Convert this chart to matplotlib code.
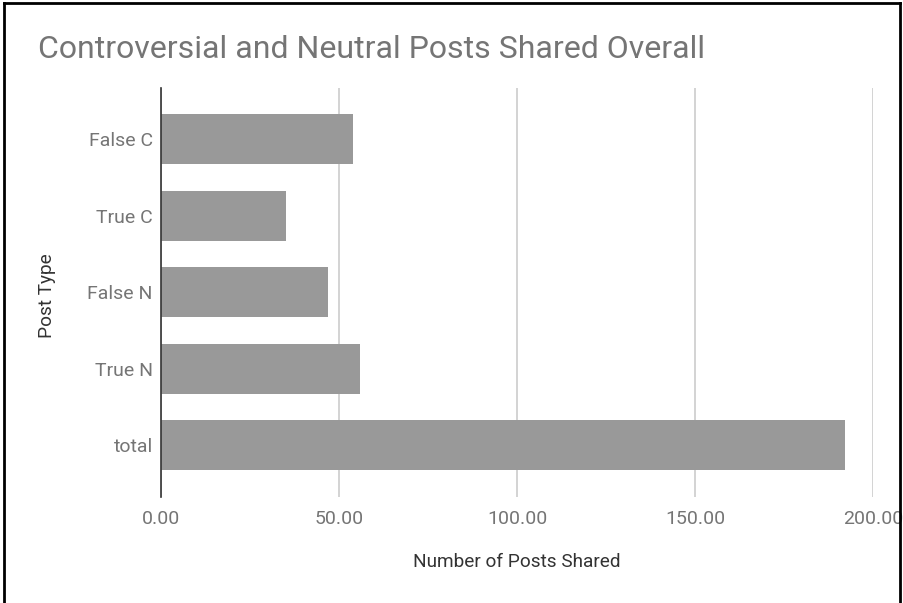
import matplotlib
matplotlib.use("Agg")
import matplotlib.pyplot as plt
from matplotlib.lines import Line2D

categories = ["False C", "True C", "False N", "True N", "total"]
values = [54, 35, 47, 56, 192]
xticks = [0, 50, 100, 150, 200]
xtick_labels = ["0.00", "50.00", "100.00", "150.00", "200.00"]

plt.rcParams['font.family'] = ['Roboto', 'DejaVu Sans']

W, H = 904, 603
fig = plt.figure(figsize=(W / 100, H / 100), dpi=100)
ax = fig.add_axes([161 / W, 1 - 497 / H, (873 - 161) / W, (497 - 88) / H])

ypos = list(range(len(categories)))
ax.barh(ypos, values, height=0.655, color="#999999", zorder=3)
ax.set_ylim(len(categories) - 1 + 0.68, -0.67)
ax.set_xlim(0, 200)
ax.set_yticks(ypos)
ax.set_yticklabels(categories, fontsize=14, color="#757575")
ax.set_xticks(xticks)
ax.set_xticklabels(xtick_labels, fontsize=14, color="#757575")
ax.tick_params(axis='y', length=0, pad=6)
ax.tick_params(axis='x', length=0, pad=9)
ax.grid(axis='x', color="#cccccc", linewidth=1.2, zorder=0)
for s in ["top", "right", "bottom"]:
    ax.spines[s].set_visible(False)
ax.spines["left"].set_color("#333333")
ax.spines["left"].set_linewidth(1.2)
ax.spines["left"].set_zorder(4)

fig.text(517 / W, 1 - 562 / H, "Number of Posts Shared", fontsize=13.7,
         color="#333333", ha="center", va="center")
fig.text(47 / W, 1 - 296 / H, "Post Type", fontsize=13.7, color="#333333",
         ha="center", va="center", rotation=90)

fig.text(38 / W, 1 - 49 / H, "Controversial and Neutral Posts Shared Overall",
         fontsize=23, color="#757575", va="center", ha="left")

# image border
fig.add_artist(Line2D([4 / W, 4 / W], [0, 1 - 3 / H], color="black", linewidth=2, transform=fig.transFigure))
fig.add_artist(Line2D([4 / W, 900 / W], [1 - 3 / H, 1 - 3 / H], color="black", linewidth=2, transform=fig.transFigure))
fig.add_artist(Line2D([900 / W, 900 / W], [0, 1 - 3 / H], color="black", linewidth=2, transform=fig.transFigure))

fig.savefig("out.png", dpi=100)
